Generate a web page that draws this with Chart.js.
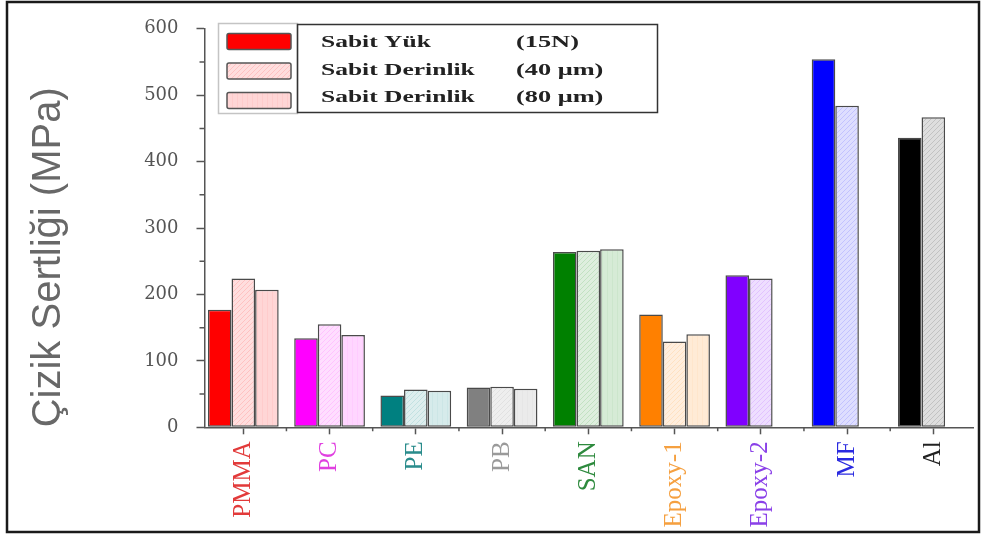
<!DOCTYPE html>
<html>
<head>
<meta charset="utf-8">
<script src="https://cdn.jsdelivr.net/npm/chart.js@4.4.1/dist/chart.umd.min.js"></script>
<style>
  html, body { margin: 0; padding: 0; background: #fff; }
  #wrap { width: 987px; height: 536px; position: relative; }
</style>
</head>
<body>
<div id="wrap"><canvas id="chart"></canvas></div>
<script>
// Scratch hardness (MPa) per material, three test conditions
const categories = ['PMMA', 'PC', 'PE', 'PB', 'SAN', 'Epoxy-1', 'Epoxy-2', 'MF', 'Al'];
const sabitYuk15N = [177, 134, 48, 60, 264, 170, 229, 554, 436];
const sabitDerinlik40 = [224, 155, 57, 61, 266, 129, 224, 484, 467];
const sabitDerinlik80 = [207, 139, 55, 58, 268, 140, null, null, null];
const seriesNames = [['Sabit Yük', '(15N)'], ['Sabit Derinlik', '(40 μm)'], ['Sabit Derinlik', '(80 μm)']];
const yTicks = [0, 100, 200, 300, 400, 500, 600];

const materialColors = ['#ff0000', '#ff00ff', '#008080', '#808080', '#008000', '#ff8000', '#8000ff', '#0000ff', '#000000'];
const labelColors = ['#e23a3a', '#e040e0', '#2a8c8c', '#9a9a9a', '#2e8a3e', '#f5a040', '#8a40e8', '#2a2ae0', '#222222'];

function tint(hex, t) {
  const n = parseInt(hex.slice(1), 16);
  const r = n >> 16, g = (n >> 8) & 255, b = n & 255;
  const f = c => Math.round(c + (255 - c) * t);
  return `rgb(${f(r)},${f(g)},${f(b)})`;
}

// Light, finely hatched fill used for the depth-controlled series
function hatchFill(hex, kind) {
  const c = document.createElement('canvas');
  c.width = 5; c.height = 5;
  const g = c.getContext('2d');
  g.fillStyle = tint(hex, kind === 'diag' ? 0.87 : 0.84);
  g.fillRect(0, 0, 5, 5);
  g.strokeStyle = tint(hex, kind === 'diag' ? 0.76 : 0.8);
  g.lineWidth = 1;
  g.beginPath();
  if (kind === 'diag') {
    g.moveTo(0, 5); g.lineTo(5, 0);
    g.moveTo(-2.5, 2.5); g.lineTo(2.5, -2.5);
    g.moveTo(2.5, 7.5); g.lineTo(7.5, 2.5);
  } else {
    g.moveTo(2.5, 0); g.lineTo(2.5, 5);
  }
  g.stroke();
  return g.createPattern(c, 'repeat');
}

const seriesValues = [sabitYuk15N, sabitDerinlik40, sabitDerinlik80];
const datasets = seriesValues.map((vals, s) => ({
  label: seriesNames[s].join(' '),
  data: vals.map((v, i) => ({ x: i, y: v })),
  backgroundColor: s === 0 ? materialColors : materialColors.map(c => hatchFill(c, s === 1 ? 'diag' : 'vert')),
  borderColor: '#4a4a4a',
  borderWidth: 1.5,
  borderSkipped: false
}));

// Minor ticks between the labelled ones
const minorTicks = {
  id: 'minorTicks',
  afterDraw(chart) {
    const { ctx, scales: { x, y } } = chart;
    ctx.save();
    ctx.strokeStyle = '#555';
    ctx.lineWidth = 1.5;
    ctx.beginPath();
    for (let i = 0; i < yTicks.length - 1; i++) {
      const py = y.getPixelForValue((yTicks[i] + yTicks[i + 1]) / 2);
      ctx.moveTo(x.left - 5, py); ctx.lineTo(x.left, py);
    }
    for (let i = 0; i < categories.length - 1; i++) {
      const px = x.getPixelForValue(i + 0.5);
      ctx.moveTo(px, y.bottom); ctx.lineTo(px, y.bottom + 4);
    }
    ctx.stroke();
    ctx.restore();
  }
};

// Two-part boxed legend: swatches on the left, condition names on the right
const boxedLegend = {
  id: 'boxedLegend',
  afterDraw(chart) {
    const { ctx } = chart;
    ctx.save();
    ctx.lineWidth = 1.5;
    ctx.strokeStyle = '#c4c4c4';
    ctx.strokeRect(218.5, 23.5, 79, 90);
    ctx.strokeStyle = '#333';
    ctx.strokeRect(297.5, 24.5, 360, 88);
    const rows = [41.5, 71, 100.5];
    chart.data.datasets.forEach((ds, s) => {
      const fill = Array.isArray(ds.backgroundColor) ? ds.backgroundColor[0] : ds.backgroundColor;
      ctx.beginPath();
      ctx.roundRect(227, rows[s] - 8, 64, 16, 2);
      ctx.fillStyle = fill;
      ctx.fill();
      ctx.strokeStyle = '#555';
      ctx.lineWidth = 1.5;
      ctx.stroke();
      ctx.fillStyle = '#222';
      ctx.font = 'bold 17px "Liberation Serif"';
      ctx.textBaseline = 'middle';
      ctx.textAlign = 'left';
      const ty = [43, 71, 98][s];
      ctx.save();
      ctx.translate(321, ty); ctx.scale(1.5, 1);
      ctx.fillText(seriesNames[s][0], 0, 0);
      ctx.restore();
      ctx.save();
      ctx.translate(516, ty); ctx.scale(1.55, 1);
      ctx.fillText(seriesNames[s][1], 0, 0);
      ctx.restore();
    });
    ctx.restore();
  }
};

const frame = {
  id: 'frame',
  afterDraw(chart) {
    const { ctx } = chart;
    ctx.save();
    ctx.strokeStyle = '#1a1a1a';
    ctx.lineWidth = 2.5;
    ctx.strokeRect(7, 2, 972, 530);
    ctx.restore();
  }
};

new Chart(document.getElementById('chart'), {
  type: 'bar',
  data: { datasets },
  options: {
    responsive: true,
    maintainAspectRatio: false,
    animation: false,
    devicePixelRatio: 1,
    categoryPercentage: 0.82,
    barPercentage: 1,
    layout: { padding: { top: 22, right: 14, bottom: 0, left: 0 } },
    plugins: { legend: { display: false }, tooltip: { enabled: false } },
    scales: {
      x: {
        type: 'linear',
        min: -0.45,
        max: 8.46,
        offset: false,
        grid: { offset: false, drawOnChartArea: false, tickLength: 7, tickColor: '#555', tickWidth: 1.5 },
        border: { color: '#555', width: 1.5 },
        ticks: {
          stepSize: 1,
          includeBounds: false,
          autoSkip: false,
          minRotation: 90,
          maxRotation: 90,
          padding: 7,
          font: { family: '"Liberation Serif"', size: 25 },
          color: ctx => labelColors[ctx.index],
          callback: v => categories[v]
        },
        afterFit: s => { s.height = 108.7; }
      },
      y: {
        min: 0,
        max: 600,
        grid: { drawOnChartArea: false, tickLength: 8, tickColor: '#555', tickWidth: 1.5 },
        border: { color: '#555', width: 1.5 },
        ticks: {
          stepSize: 100,
          padding: 18,
          font: { family: '"DejaVu Serif"', size: 18 },
          color: '#555'
        },
        title: {
          display: true,
          text: 'Çizik Sertliği (MPa)',
          align: 'start',
          color: '#686868',
          font: { family: '"Liberation Sans"', size: 40, weight: 'normal' },
          padding: { top: 25, bottom: 0 }
        },
        afterFit: s => { s.width = 204.5; }
      }
    }
  },
  plugins: [minorTicks, boxedLegend, frame]
});
</script>
</body>
</html>
